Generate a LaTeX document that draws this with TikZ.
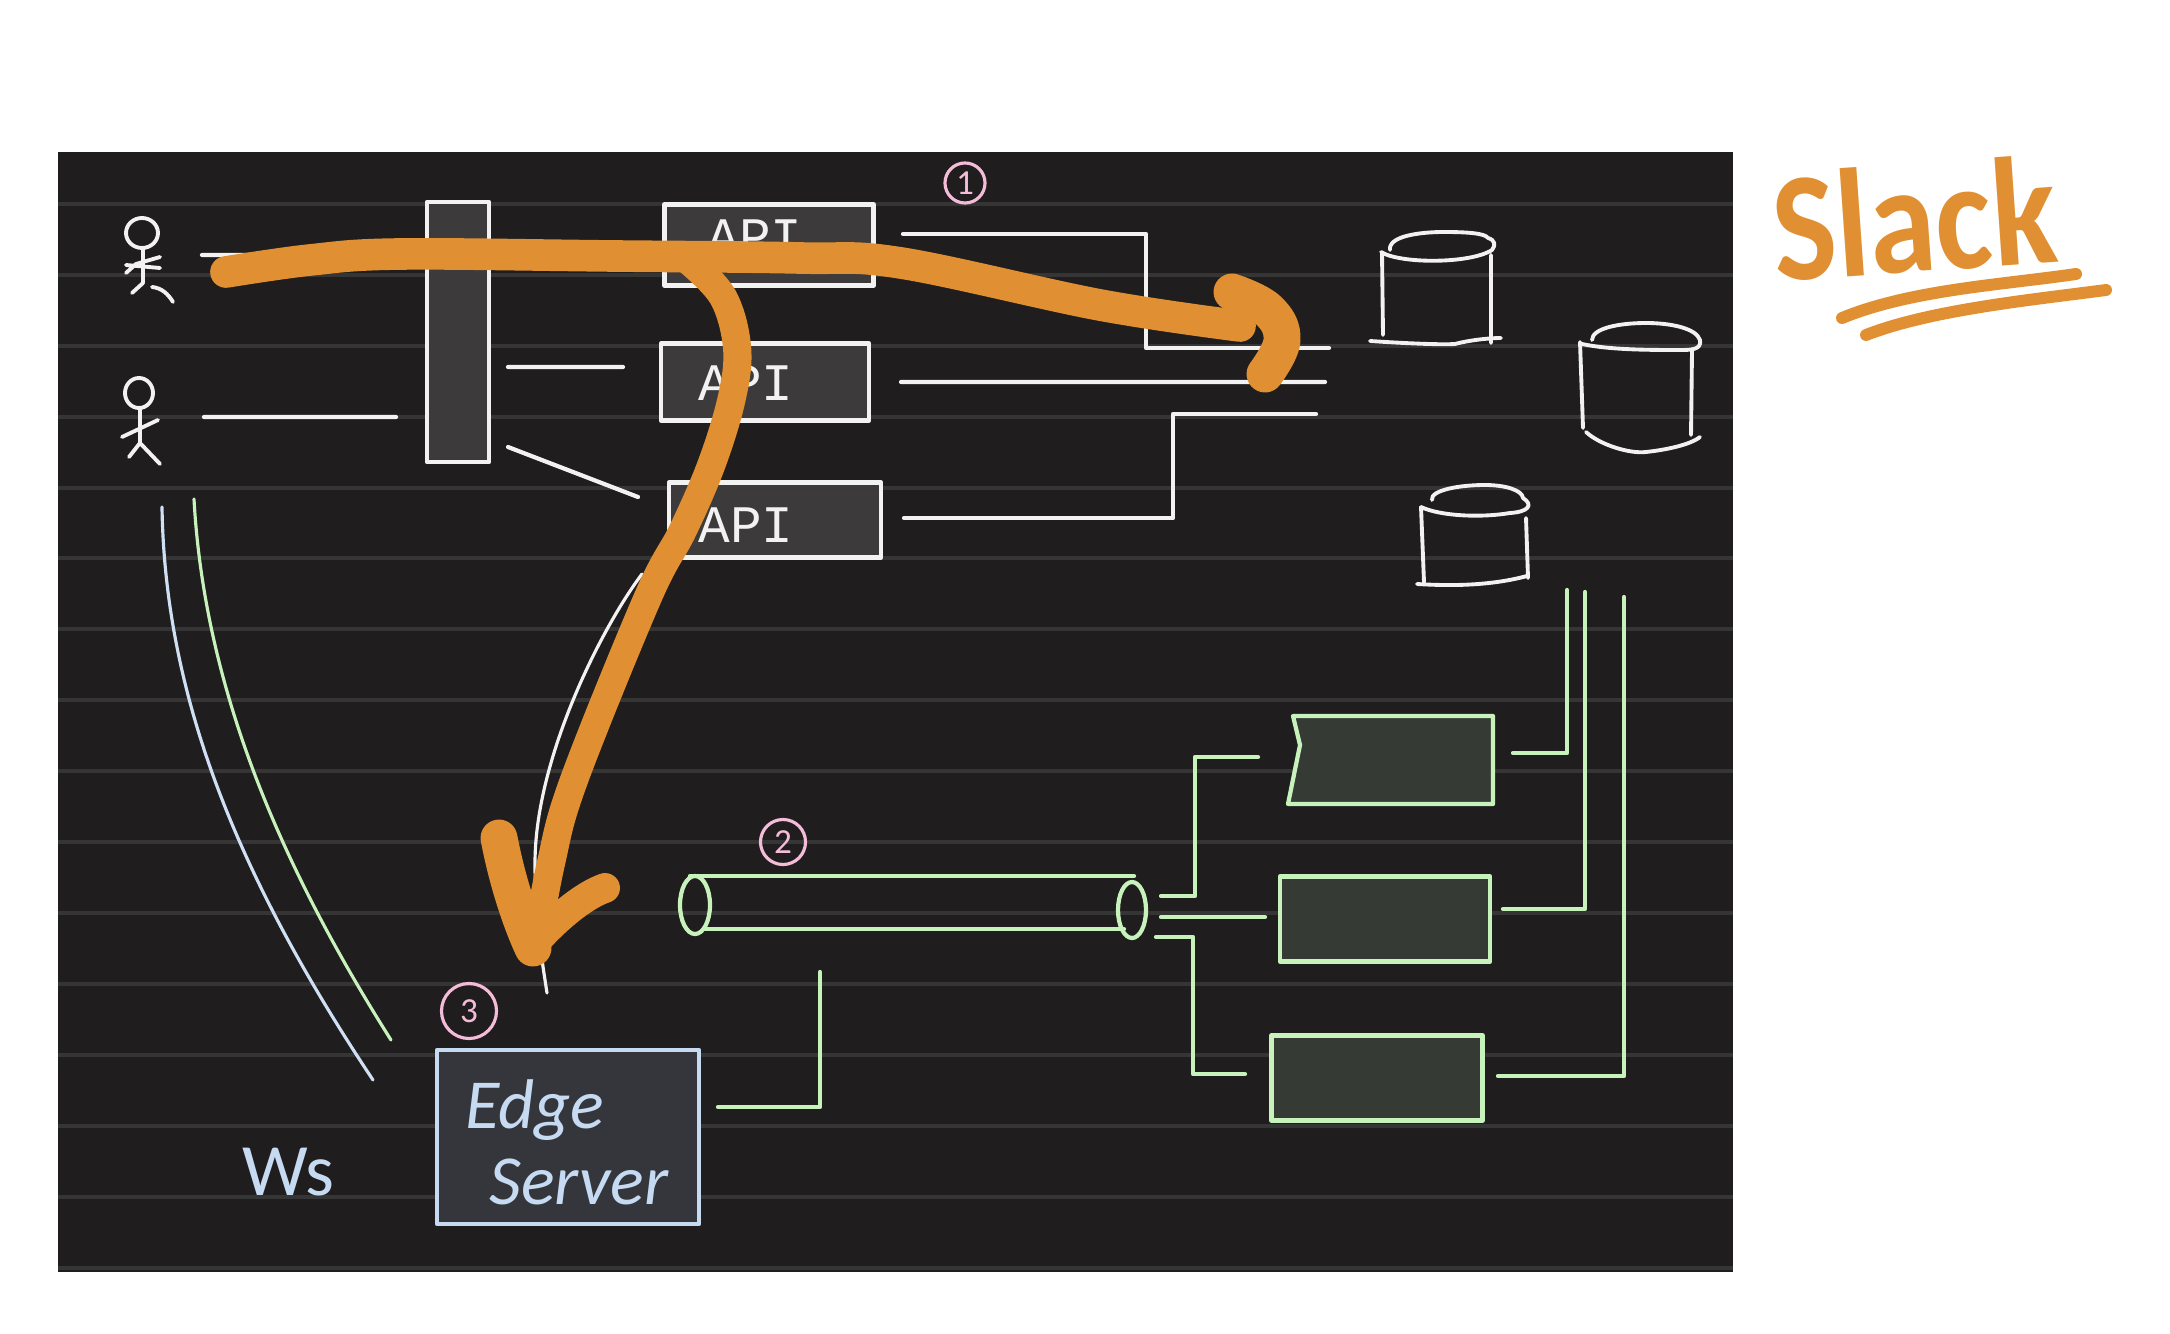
\documentclass[tikz,border=0pt]{standalone}
\usepackage{fontspec}
\setmainfont{Carlito}
\setmonofont{Liberation Mono}
\definecolor{panelc}{HTML}{1F1D1E}
\definecolor{gridc}{HTML}{363536}
\definecolor{darkc}{HTML}{3C3A3B}
\definecolor{greenfill}{HTML}{353A35}
\definecolor{bluefill}{HTML}{34363C}
\definecolor{whitec}{HTML}{F2F2F2}
\definecolor{greenc}{HTML}{C8F2BC}
\definecolor{bluec}{HTML}{C6DAF2}
\definecolor{pinkc}{HTML}{F4BCD8}
\definecolor{orangec}{HTML}{E09032}
\tikzset{
	box/.style={draw=whitec, fill=darkc, line width=1.2pt, inner sep=0pt, outer sep=0pt},
	apibox/.style={box, text=whitec, font=\ttfamily\fontsize{15}{18}\selectfont},
	greenbox/.style={box, draw=greenc, fill=greenfill},
	wire/.style={whitec, line width=1.2pt},
	greenwire/.style={greenc, line width=1.2pt},
	hand/.style={whitec, line width=1.1pt},
	stroke/.style={orangec, line width=9pt},
	num/.style={circle, draw=pinkc, text=pinkc, line width=.9pt, inner sep=0pt, font=\fontsize{10}{12}\selectfont},
	bluetext/.style={text=bluec, font=\itshape\fontsize{20}{24}\selectfont, inner sep=0pt}
}
\begin{document}
\begin{tikzpicture}[x=.01cm, y=-.01cm, line join=round, line cap=round]
	\useasboundingbox (0,0) rectangle (2170,1334);
	\fill[panelc] (58,152) rectangle (1733,1272);
	\foreach \y in {204,275,346,417,488,558,629,700,771,842,913,984,1055,1126,1197,1268}
		\draw[gridc, line width=1pt, line cap=butt] (58,\y) -- (1733,\y);

	% users
	\draw[hand] (142,233) ellipse (16 and 15) (143,248) -- (143,283) -- (132,293) (126,273) -- (136,264) -- (160,257) (126,265) -- (160,268) (152,287) .. controls (162,288) and (168,294) .. (173,302);
	\draw[hand] (139,393) ellipse (14 and 15) (140,408) -- (140,443) -- (129,457) (140,443) -- (160,464) (122,437) -- (158,420);

	% front boxes
	\node[box, minimum width=.62cm, minimum height=2.6cm] (gate) at (458,332) {};
	\node[apibox, minimum width=2.09cm, minimum height=.81cm] (api1) at (769,245) {};
	\node[apibox, minimum width=2.08cm, minimum height=.77cm] (api2) at (765,382) {};
	\node[apibox, minimum width=2.12cm, minimum height=.75cm] (api3) at (775,520) {};
	\node[text=whitec, font=\ttfamily\fontsize{15}{18}\selectfont, inner sep=0pt] (api1text) at (755,237) {API};
	\node[text=whitec, font=\ttfamily\fontsize{15}{18}\selectfont, inner sep=0pt] (api2text) at (746,383) {API};
	\node[text=whitec, font=\ttfamily\fontsize{15}{18}\selectfont, inner sep=0pt] (api3text) at (746,525) {API};
	\node[num] (num1) at (965,183) [minimum size=.4cm] {1};
	\node[num] (num2) at (783,842) [minimum size=.45cm] {2};
	\node[num] (num3) at (469,1011) [minimum size=.55cm] {3};

	% wire ends
	\coordinate (u1) at (202,255);
	\coordinate (u1g) at (270,255);
	\coordinate (u2) at (204,417);
	\coordinate (u2g) at (396,417);
	\coordinate (g2) at (508,367);
	\coordinate (g2a) at (623,367);
	\coordinate (g3) at (508,447);
	\coordinate (g3a) at (638,497);
	\coordinate (a1) at (903,234);
	\coordinate (a1d) at (1329,348);
	\coordinate (a2) at (901,382);
	\coordinate (a2d) at (1325,382);
	\coordinate (a3) at (904,518);
	\coordinate (a3d) at (1316,414);
	\draw[wire] (u1) -- (u1g) (u2) -- (u2g) (g2) -- (g2a) (g3) -- (g3a) (a2) -- (a2d);
	\draw[wire] (a1) -- (1146,234) |- (a1d);
	\draw[wire] (a3) -- (1173,518) |- (a3d);

	% databases
	\draw[hand] (1390,250) .. controls (1388,236) and (1420,232) .. (1444,232) .. controls (1465,232) and (1485,233) .. (1488,238) (1381,252) .. controls (1400,264) and (1470,264) .. (1492,250) .. controls (1496,245) and (1495,240) .. (1488,238) (1382,253) -- (1383,335) (1491,255) -- (1491,343) (1370,341) .. controls (1400,343) and (1440,345) .. (1455,344) .. controls (1470,340) and (1490,338) .. (1501,338);
	\draw[hand] (1592,340) .. controls (1592,328) and (1620,323) .. (1646,323) .. controls (1670,323) and (1696,328) .. (1700,340) .. controls (1702,350) and (1690,350) .. (1680,350) .. controls (1650,350) and (1610,350) .. (1582,344) (1580,342) -- (1583,428) (1692,350) -- (1691,435) (1586,432) .. controls (1600,445) and (1630,454) .. (1646,452) .. controls (1665,450) and (1690,445) .. (1700,437);
	\draw[hand] (1432,500) .. controls (1430,490) and (1460,485) .. (1485,485) .. controls (1505,485) and (1522,490) .. (1523,498) .. controls (1534,505) and (1528,512) .. (1510,513) .. controls (1480,518) and (1440,516) .. (1421,507) (1421,507) -- (1424,582) (1526,518) -- (1528,578) (1417,584) .. controls (1450,586) and (1490,586) .. (1527,576);

	% queue and consumers
	\draw[greenwire] (690,876) -- (1134,876) (704,929) -- (1124,929);
	\draw[greenwire] (695,905) ellipse (15 and 29);
	\draw[greenwire] (1132,910) ellipse (14 and 28);
	\draw[greenbox] (1293,716) -- (1493,716) -- (1493,804) -- (1288,804) -- (1300,745) -- cycle;
	\node[greenbox, minimum width=2.1cm, minimum height=.85cm] (worker2) at (1385,919) {};
	\node[greenbox, minimum width=2.11cm, minimum height=.85cm] (worker3) at (1377,1078) {};
	\coordinate (t1) at (1161,896);
	\coordinate (t1w) at (1258,757);
	\coordinate (t2) at (1161,917);
	\coordinate (t2w) at (1265,917);
	\coordinate (t3) at (1156,937);
	\coordinate (t3w) at (1245,1074);
	\coordinate (w1) at (1513,753);
	\coordinate (w1d) at (1567,590);
	\coordinate (w2) at (1503,909);
	\coordinate (w2d) at (1585,592);
	\coordinate (w3) at (1498,1076);
	\coordinate (w3d) at (1624,597);
	\draw[greenwire] (t1) -- (1195,896) |- (t1w);
	\draw[greenwire] (t2) -- (t2w);
	\draw[greenwire] (t3) -- (1193,937) |- (t3w);
	\draw[greenwire] (w1) -| (w1d);
	\draw[greenwire] (w2) -| (w2d);
	\draw[greenwire] (w3) -| (w3d);

	% edge server
	\node[box, draw=bluec, fill=bluefill, minimum width=2.62cm, minimum height=1.74cm] (edge) at (568,1137) {};
	\node[bluetext] (edgetext) at (535,1110) {Edge};
	\node[bluetext] (servertext) at (579,1182) {Server};
	\node[bluetext, font=\fontsize{21}{24}\selectfont] (wstext) at (288,1172) {Ws};
	\coordinate (e1) at (718,1107);
	\coordinate (e1q) at (820,972);
	\draw[greenwire] (e1) -| (e1q);
	\draw[bluec!85!white, line width=.9pt] (162,507) .. controls (165,700) and (240,880) .. (373,1080);
	\draw[greenc, line width=.9pt] (194,499) .. controls (205,700) and (290,880) .. (391,1040);
	\draw[whitec, line width=.9pt] (642,574) .. controls (600,630) and (535,760) .. (535,863) .. controls (535,920) and (542,960) .. (547,993);

	% orange path
	\draw[stroke] plot[smooth, tension=.6] coordinates {(226,272) (310,260) (400,254) (614,256) (800,258) (901,263) (1100,305) (1240,326)};
	\draw[stroke, line width=10.5pt] plot[smooth, tension=.7] coordinates {(1232,292) (1268,310) (1282,340) (1265,374)};
	\draw[stroke, line width=8pt] plot[smooth, tension=.6] coordinates {(690,262) (723,297) (737,347) (732,397) (712,463) (683,530) (648,597) (574,780) (551,863) (535,950)};
	\draw[stroke, line width=10.5pt] (499,838) .. controls (507,880) and (520,920) .. (533,948);
	\draw[stroke, line width=8.5pt] (605,888) .. controls (585,895) and (560,915) .. (537,940);

	% title
	\node[text=orangec, rotate=4, xscale=.87, inner sep=0pt, font=\bfseries\fontsize{44}{48}\selectfont] (title) at (1914,218) {Slack};
	\draw[orangec, line width=3.4pt] (1842,318) .. controls (1910,290) and (2000,285) .. (2076,274);
	\draw[orangec, line width=3.4pt] (1866,335) .. controls (1930,310) and (2030,300) .. (2106,290);
\end{tikzpicture}
\end{document}
